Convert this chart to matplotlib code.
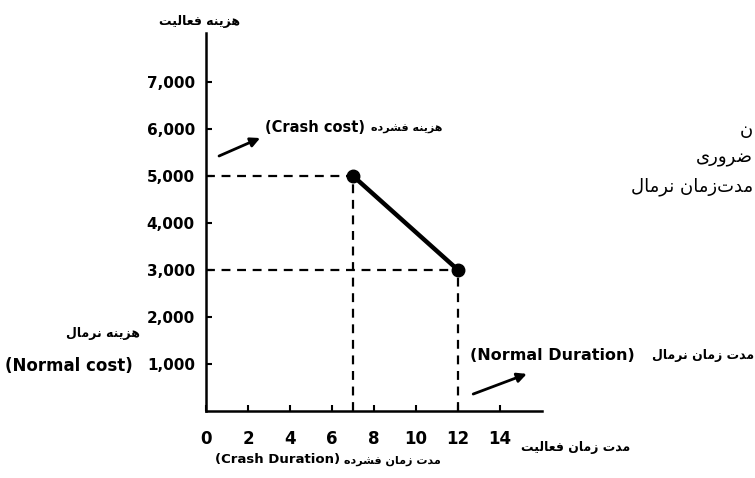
import matplotlib
matplotlib.use('Agg')
import matplotlib.pyplot as plt

# activity cost vs duration (crash point and normal point)
durations = [7, 12]          # crash duration, normal duration
costs = [5000, 3000]         # crash cost, normal cost
xticks = [0, 2, 4, 6, 8, 10, 12, 14]
yticks = [1000, 2000, 3000, 4000, 5000, 6000, 7000]
ytick_labels = ['1,000', '2,000', '3,000', '4,000', '5,000', '6,000', '7,000']

# --- minimal Persian shaping (matplotlib has no complex text layout) ---
# letter: (isolated, final, initial, medial); initial None => no join to next
FORMS = {
    'ا': ('\uFE8D', '\uFE8E', None, None),
    'ت': ('\uFE95', '\uFE96', '\uFE97', '\uFE98'),
    'د': ('\uFEA9', '\uFEAA', None, None),
    'ر': ('\uFEAD', '\uFEAE', None, None),
    'ز': ('\uFEAF', '\uFEB0', None, None),
    'ش': ('\uFEB5', '\uFEB6', '\uFEB7', '\uFEB8'),
    'ض': ('\uFEBD', '\uFEBE', '\uFEBF', '\uFEC0'),
    'ع': ('\uFEC9', '\uFECA', '\uFECB', '\uFECC'),
    'ف': ('\uFED1', '\uFED2', '\uFED3', '\uFED4'),
    'ل': ('\uFEDD', '\uFEDE', '\uFEDF', '\uFEE0'),
    'م': ('\uFEE1', '\uFEE2', '\uFEE3', '\uFEE4'),
    'ن': ('\uFEE5', '\uFEE6', '\uFEE7', '\uFEE8'),
    'ه': ('\uFEE9', '\uFEEA', '\uFEEB', '\uFEEC'),
    'و': ('\uFEED', '\uFEEE', None, None),
    'ی': ('\uFBFC', '\uFBFD', '\uFBFE', '\uFBFF'),
}


def fa(text):
    out = []
    for i, ch in enumerate(text):
        if ch not in FORMS:
            out.append(ch)
            continue
        prev = text[i - 1] if i > 0 else ''
        nxt = text[i + 1] if i + 1 < len(text) else ''
        jp = prev in FORMS and FORMS[prev][2] is not None
        jn = nxt in FORMS and FORMS[ch][2] is not None
        iso, fin, ini, med = FORMS[ch]
        if jp and jn:
            out.append(med)
        elif jp:
            out.append(fin)
        elif jn:
            out.append(ini)
        else:
            out.append(iso)
    return ''.join(reversed(out)).replace('\u200c', '')


W, H = 755, 478
fig = plt.figure(figsize=(W / 100, H / 100), dpi=100, facecolor='w')


def px(x, y):
    return x / W, 1 - y / H


ax = fig.add_axes([206 / W, (H - 411) / H, 336 / W, (411 - 33) / H])
ax.set_xlim(0, 16)
ax.set_ylim(0, 8040)

# guide lines
ax.plot([0, durations[0]], [costs[0], costs[0]], color='k', lw=1.6, ls=(0, (4, 3)))
ax.plot([durations[0], durations[0]], [0, costs[0]], color='k', lw=1.6, ls=(0, (4, 3)))
ax.plot([0, durations[1]], [costs[1], costs[1]], color='k', lw=1.6, ls=(0, (4, 3)))
ax.plot([durations[1], durations[1]], [0, costs[1]], color='k', lw=1.6, ls=(0, (4, 3)))
ax.plot(durations, costs, color='k', lw=3.2, marker='o', ms=9)

for s in ['top', 'right']:
    ax.spines[s].set_visible(False)
for s in ['left', 'bottom']:
    ax.spines[s].set_linewidth(1.8)

ax.set_xticks(xticks)
ax.set_xticklabels([str(v) for v in xticks], fontsize=12, fontweight='bold',
                   family='DejaVu Sans')
ax.set_yticks(yticks)
ax.set_yticklabels(ytick_labels, fontsize=11, fontweight='bold', family='DejaVu Sans')
ax.tick_params(axis='both', direction='in', length=4, width=1.5)
ax.tick_params(axis='x', pad=14)
ax.tick_params(axis='y', pad=8)

# arrows
ax.annotate('', xy=(2.7, 5830), xytext=(0.5, 5400), annotation_clip=False,
            arrowprops=dict(arrowstyle='-|>', color='k', lw=2, mutation_scale=14))
ax.annotate('', xy=(15.4, 810), xytext=(12.6, 340), annotation_clip=False,
            arrowprops=dict(arrowstyle='-|>', color='k', lw=2, mutation_scale=14))

bold = dict(fontweight='bold', family='DejaVu Sans', color='k', va='center')
fig.text(*px(200, 22), fa('هزینه فعالیت'), fontsize=9, ha='center', **bold)

fig.text(*px(265, 128), '(Crash cost)', fontsize=10.5, ha='left', **bold)
fig.text(*px(442, 129), fa('هزینه فشرده'), fontsize=8, ha='right', **bold)

fig.text(*px(140, 333), fa('هزینه نرمال'), fontsize=9, ha='right', **bold)
fig.text(*px(5, 366), '(Normal cost)', fontsize=12, ha='left', **bold)

fig.text(*px(470, 355), '(Normal Duration)', fontsize=11.5, ha='left', **bold)
fig.text(*px(754, 356), fa('مدت زمان نرمال'), fontsize=9, ha='right', **bold)

fig.text(*px(630, 448), fa('مدت زمان فعالیت'), fontsize=9, ha='right', **bold)

fig.text(*px(215, 460), '(Crash Duration)', fontsize=9.5, ha='left', **bold)
fig.text(*px(441, 461), fa('مدت زمان فشرده'), fontsize=8, ha='right', **bold)

# text fragments at the right border
reg = dict(family='DejaVu Sans', color='k', fontsize=13, va='center', ha='right')
fig.text(*px(753, 130), fa('ن'), **reg)
fig.text(*px(753, 158), fa('ضروری'), **reg)
fig.text(*px(753, 187), fa('مدت\u200cزمان نرمال'), **reg)

plt.savefig('out.png', dpi=100)
